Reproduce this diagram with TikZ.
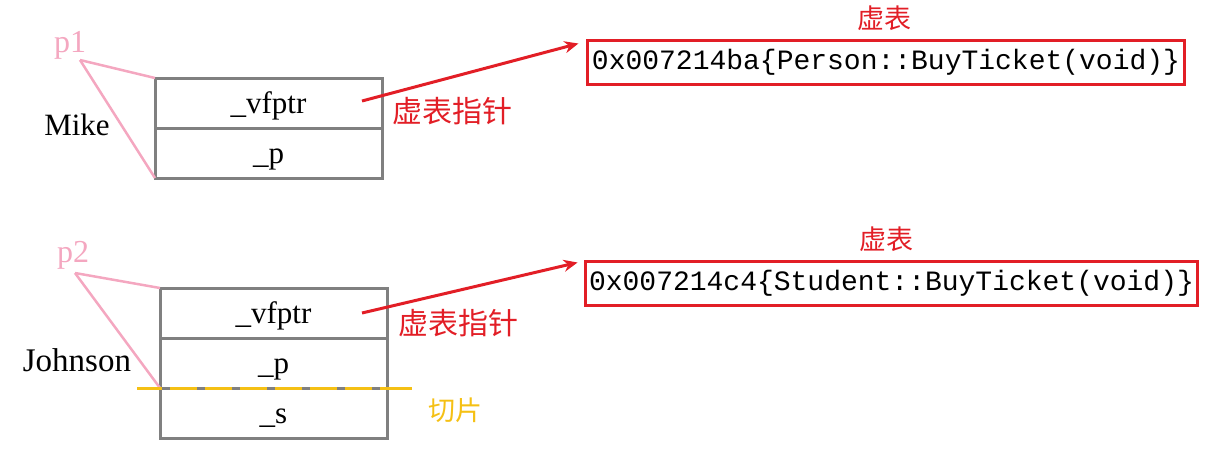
\documentclass[tikz,border=0pt]{standalone}
\usepackage{fontspec}
\setmainfont{Liberation Serif}
\setmonofont{Liberation Mono}
\newfontfamily\cjk{Noto Sans CJK SC}
\usetikzlibrary{arrows.meta}
\usetikzlibrary{positioning}
\usetikzlibrary{calc}

\definecolor{vred}{RGB}{226,30,38}
\definecolor{ppink}{RGB}{244,167,192}
\definecolor{cgold}{RGB}{245,192,20}
\definecolor{fgray}{RGB}{128,128,128}

\begin{document}
\begin{tikzpicture}[x=1pt,y=-1pt,>/.tip={Stealth[length=14pt,width=12pt]},
	field/.style={draw=fgray,line width=3pt,minimum width=227pt,minimum height=50pt,outer sep=0pt,inner sep=0pt,text height=21pt,text depth=0pt,font=\fontsize{31}{34}\selectfont},
	vtab/.style={draw=vred,line width=3pt,minimum height=44pt,inner xsep=4pt,inner ysep=0pt,font=\ttfamily\fontsize{28}{30}\selectfont},
	cnlab/.style={text=vred,font=\cjk\fontsize{27}{30}\selectfont},
	ptrlab/.style={text=ppink,font=\fontsize{32}{34}\selectfont},
	objlab/.style={font=\fontsize{31}{34}\selectfont},
	ptrline/.style={draw=ppink,line width=2.5pt},
	vptr/.style={draw=vred,line width=3pt,->}]
	\useasboundingbox (0,0) rectangle (1226,448);

	% Mike
	\node (vfptrA) [field] at (268.5,103) {\_vfptr};
	\node (pA) [field,below=0pt of vfptrA] {\_p};
	\node (p1) [ptrlab] at (70,45) {p1};
	\coordinate (p1tip) at (80,60);
	\node (mike) [objlab] at (77,125) {Mike};
	\draw[ptrline] (p1tip) -- (vfptrA.north west);
	\draw[ptrline] (p1tip) -- (pA.south west);

	\node (tabA) [vtab] at (886,62) {0x007214ba\{Person::BuyTicket(void)\}};
	\node (tabAlab) [cnlab] at (884,18) {虚表};
	\node (ptrAlab) [cnlab,font=\cjk\fontsize{30}{32}\selectfont] at (452,111) {虚表指针};
	\draw[vptr] ($(vfptrA.east)+(-20,-2)$) -- ($(tabA.north west)+(-8,5)$);

	% Johnson
	\node (vfptrB) [field] at (273.5,313) {\_vfptr};
	\node (pB) [field,below=0pt of vfptrB] {\_p};
	\node (sB) [field,below=0pt of pB] {\_s};
	\node (p2) [ptrlab] at (73,255) {p2};
	\coordinate (p2tip) at (75,273);
	\node (johnson) [objlab,font=\fontsize{33}{35}\selectfont] at (77,360) {Johnson};
	\draw[ptrline] (p2tip) -- (vfptrB.north west);
	\draw[ptrline] (p2tip) -- (pB.south west);

	\node (tabB) [vtab] at (891.5,283) {0x007214c4\{Student::BuyTicket(void)\}};
	\node (tabBlab) [cnlab] at (886,239) {虚表};
	\node (ptrBlab) [cnlab,font=\cjk\fontsize{30}{32}\selectfont] at (458,323) {虚表指针};
	\draw[vptr] ($(vfptrB.east)+(-25,0)$) -- ($(tabB.north west)+(-6,3)$);

	% slicing line
	\coordinate (cutL) at ($(pB.south west)+(-23,0)$);
	\coordinate (cutR) at ($(pB.south east)+(25,0)$);
	\draw[cgold,line width=3pt] (cutL) -- (pB.south west);
	\draw[cgold,line width=3pt] (pB.south east) -- (cutR);
	\draw[cgold,line width=3pt,dash pattern=on 27pt off 8pt,dash phase=-10pt] (pB.south west) -- (pB.south east);
	\node (cut) [text=cgold,font=\cjk\fontsize{27}{30}\selectfont] at (455,410) {切片};
\end{tikzpicture}
\end{document}
